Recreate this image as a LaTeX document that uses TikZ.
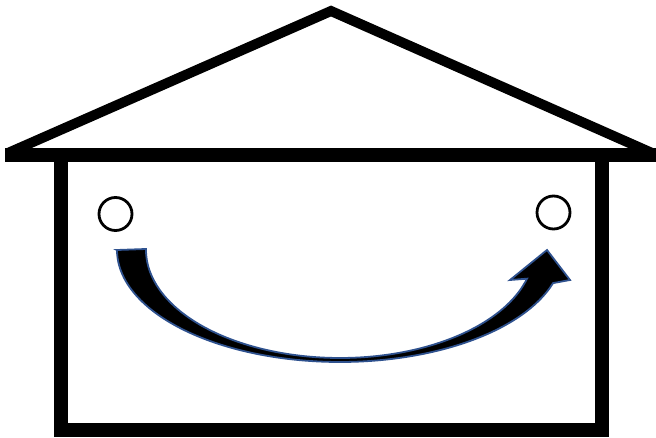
\documentclass[tikz,border=0pt]{standalone}
\definecolor{arrowblue}{RGB}{47,82,143}
\tikzset{
  house/.style={line width=#1, draw=black},
  house/.default=14pt,
  ring/.style={circle, draw=black, line width=2.8pt, minimum size=33pt, inner sep=0pt},
  bigarrow/.style={fill=black, draw=arrowblue, line width=1.8pt, line join=miter}
}
\begin{document}
\begin{tikzpicture}[x=1pt,y=-1pt]
\useasboundingbox (0,0) rectangle (656,438);
% roof
\draw[house=10pt, line join=miter] (8,153) -- (331,11) -- (652,153);
% eave bar
\draw[house] (5,155) -- (656,155);
% walls
\draw[house, line join=miter] (60.5,155) -- (60.5,430) -- (602,430) -- (602,155);
% circles
\node[ring] (c1) at (115.5,214) {};
\node[ring] (c2) at (553.5,212.5) {};
% curved arrow
\draw[bigarrow] (117,250) -- (146,249)
  -- plot[domain=180:15.4, samples=80, smooth] ({340+194*cos(\x)},{250+108*sin(\x)})
  -- (510,280) -- (547,250) -- (570,280)
  -- plot[domain=17.2:180, samples=80, smooth] ({340+223*cos(\x)},{250+112*sin(\x)})
  -- cycle;
\end{tikzpicture}
\end{document}
